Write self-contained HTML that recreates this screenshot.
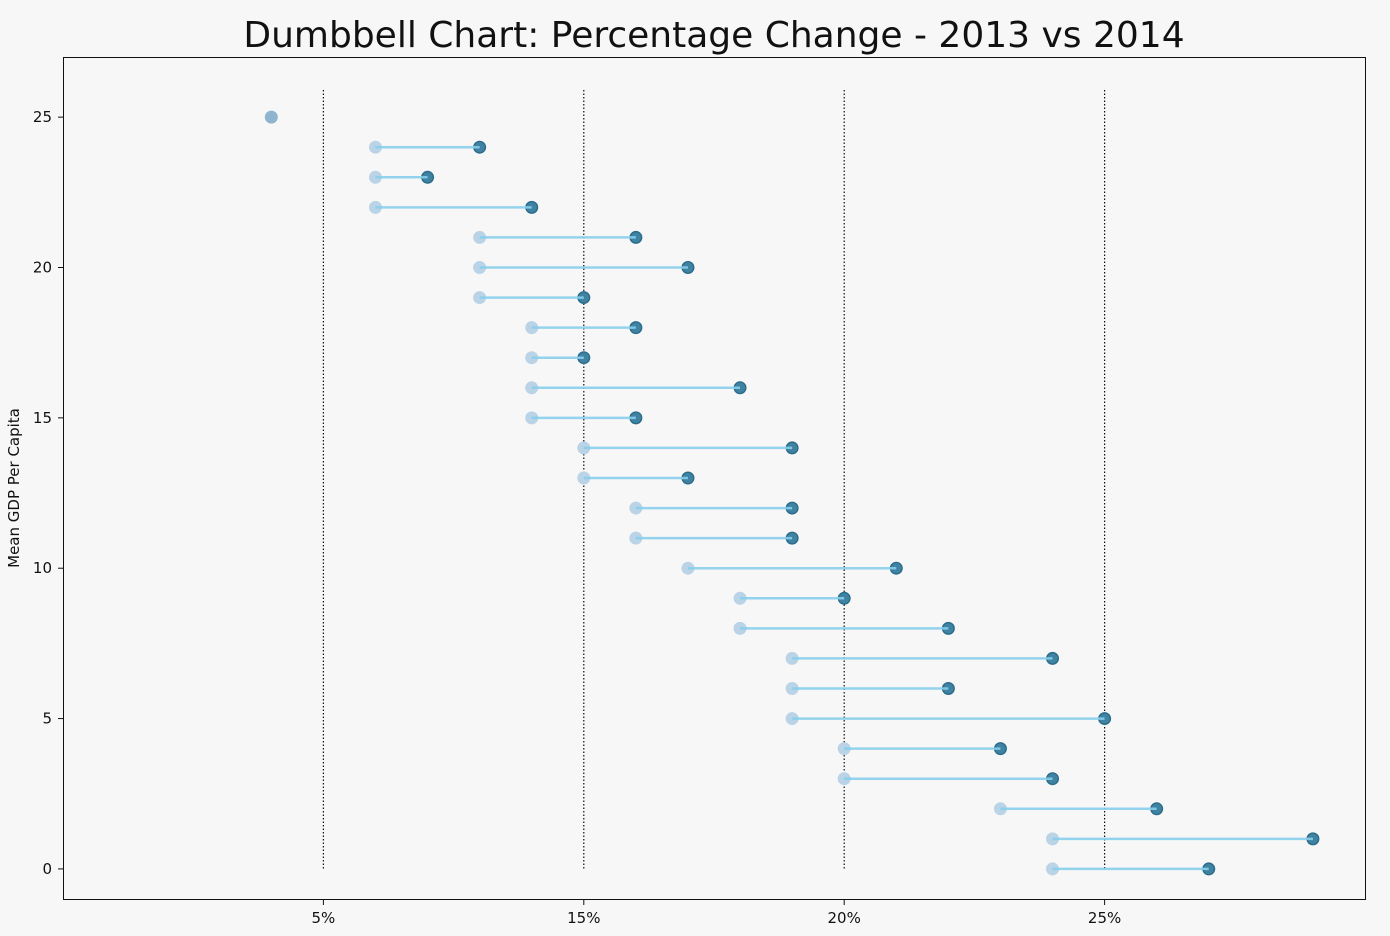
<!DOCTYPE html>
<html><head><meta charset="utf-8"><style>
body{margin:0;background:#f7f7f7;}
svg{display:block;font-family:"DejaVu Sans","Liberation Sans",sans-serif;}
</style></head><body>
<svg id="chart" width="1390" height="936" viewBox="0 0 1390 936">
<rect x="0" y="0" width="1390" height="936" fill="#f7f7f7"/>
<text x="714" y="47" font-size="36" text-anchor="middle" fill="#111" font-family="DejaVu Sans, sans-serif">Dumbbell Chart: Percentage Change - 2013 vs 2014</text>
<rect x="63.5" y="57.5" width="1302" height="842" fill="#f7f7f7" stroke="#111" stroke-width="1"/>
<text transform="translate(19,488) rotate(-90)" font-size="15" text-anchor="middle" fill="#111" font-family="DejaVu Sans, sans-serif">Mean GDP Per Capita</text>
<g id="grid"></g><g id="ticks"></g><g id="marks"></g>
</svg>
<script>
const rowIndex=[0,1,2,3,4,5,6,7,8,9,10,11,12,13,14,15,16,17,18,19,20,21,22,23,24,25];
const val2013=[19,19,18,15,15,14,14,14,13,13,12,11,11,10,10,9,9,9,9,8,8,8,6,6,6,4];
const val2014=[22,24,21,19,18,20,17,19,17,15,16,14,14,12,14,11,13,10,11,10,12,11,9,7,8,4];
const xTickVals=[5,10,15,20];
const xTickLabels=["5%","15%","20%","25%"];
const yTickVals=[0,5,10,15,20,25];
const NS="http://www.w3.org/2000/svg";
const X=v=>63+(v-0)/(25-0)*1302;
const Y=v=>899-(v-(-1))/(27-(-1))*842;
function mk(tag,attrs,parent){const e=document.createElementNS(NS,tag);for(const k in attrs)e.setAttribute(k,attrs[k]);parent.appendChild(e);return e;}
const grid=document.getElementById('grid'),ticks=document.getElementById('ticks'),marks=document.getElementById('marks');
xTickVals.forEach((v,i)=>{
 const l=mk('line',{x1:X(v),x2:X(v),y1:90,y2:Y(0),stroke:'#111','stroke-width':1.2,'stroke-dasharray':'1.5,2'},grid);
 
 
 mk('line',{x1:X(v),x2:X(v),y1:900,y2:905,stroke:'#111'},ticks);
 const t=mk('text',{x:X(v),y:923,'font-size':15,'text-anchor':'middle',fill:'#111'},ticks);
 t.textContent=xTickLabels[i];
 
 
});
yTickVals.forEach(v=>{
 mk('line',{x1:58,x2:63,y1:Y(v),y2:Y(v),stroke:'#111'},ticks);
 const t=mk('text',{x:52,y:Y(v)+5,'font-size':15,'text-anchor':'end',fill:'#111'},ticks);
 t.textContent=v;
 
 
});
rowIndex.forEach((r,i)=>{
 const y=Y(r),a=val2013[i],b=val2014[i];
 if(a===b){
  const c=mk('circle',{cx:X(a),cy:y,r:6.5,fill:'#8fb4cf'},marks);
  
  
  return;
 }
 const c1=mk('circle',{cx:X(a),cy:y,r:6.5,fill:'#bad3e6'},marks);
 
 
 const c2=mk('circle',{cx:X(b),cy:y,r:5.8,fill:'#3f82a2',stroke:'#2b6c8a','stroke-width':1.4},marks);
 
 
 const l=mk('line',{x1:X(a),x2:X(b),y1:y,y2:y,stroke:'#87ceeb','stroke-width':2.5,'stroke-opacity':0.9},marks);
 
 
});
</script>
</body></html>
